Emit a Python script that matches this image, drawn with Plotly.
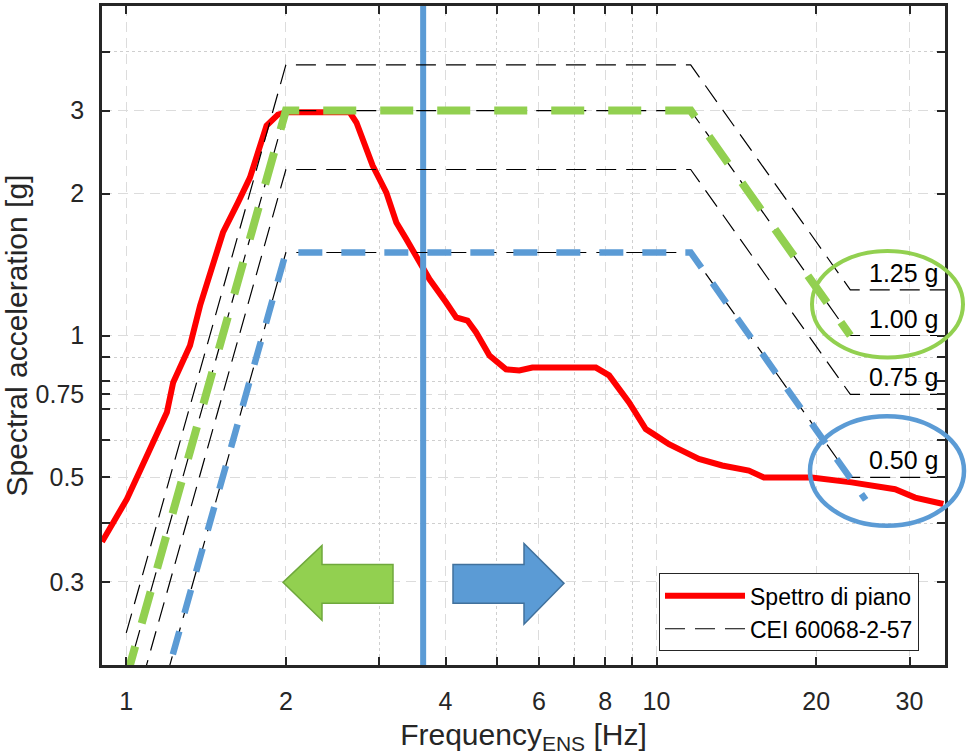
import plotly.graph_objects as go
import math

# ---------------- data ----------------
# Floor spectrum ("Spettro di piano")
spec_freq = [0.9, 1.003, 1.101, 1.193, 1.226, 1.319, 1.378, 1.449, 1.522, 1.624, 1.711,
             1.839, 1.932, 2.006, 2.639, 2.717, 2.915, 3.094, 3.231, 3.374, 3.621, 3.732,
             4.012, 4.19, 4.401, 4.569, 4.841, 5.203, 5.512, 5.833, 7.685, 8.139, 8.877,
             9.544, 9.893, 10.556, 11.17, 12.02, 13.3, 14.93, 15.94, 19.62, 23.33, 28.18,
             30.74, 34.75]
spec_acc = [0.365, 0.45, 0.565, 0.687, 0.795, 0.952, 1.158, 1.38, 1.654, 1.914, 2.163,
            2.788, 2.942, 2.975, 2.975, 2.83, 2.293, 2.01, 1.736, 1.601, 1.407, 1.316,
            1.175, 1.092, 1.076, 1.015, 0.907, 0.848, 0.843, 0.855, 0.855, 0.823, 0.721,
            0.633, 0.617, 0.588, 0.570, 0.547, 0.530, 0.517, 0.500, 0.500, 0.488, 0.472,
            0.453, 0.439]

# CEI 60068-2-57 required response spectra (corner points)
cei_freq = [1.0, 2.0, 11.6, 23.2, 35.0]
cei_125 = [0.234, 3.75, 3.75, 1.25, 1.25]
cei_100 = [0.1875, 3.0, 3.0, 1.0, 1.0]
cei_075 = [0.1406, 2.25, 2.25, 0.75, 0.75]
cei_050 = [0.0938, 1.5, 1.5, 0.5, 0.5]
cei_labels = ["1.25 g", "1.00 g", "0.75 g", "0.50 g"]
cei_zpa = [1.25, 1.00, 0.75, 0.50]

# highlighted spectra
green_freq = [1.0, 2.0, 11.6, 23.2]
green_acc = [0.1875, 3.0, 3.0, 1.0]
blue_freq = [1.0, 2.0, 11.6, 24.8]
blue_acc = [0.0938, 1.5, 1.5, 0.448]

# natural frequency line
f_ens = 3.63

x_ticks = [1, 2, 4, 6, 8, 10, 20, 30]
x_minor = [3, 5, 7, 9]
y_ticks = [0.3, 0.5, 0.75, 1, 2, 3]
y_minor = [0.4, 0.6, 0.7, 0.8, 0.9, 4]
x_range = [0.9, 35]
y_range = [0.2, 5]

# ---------------- layout helpers ----------------
W, H = 967, 755
L, R, T, B = 102, 22, 3, 90
PW, PH = W - L - R, H - T - B
def px(x):
    return (x - L) / PW
def py(y):
    return (H - B - y) / PH

FONT = "Liberation Sans, Arial, sans-serif"
GREEN = "#92D050"
BLUE = "#5B9BD5"
AXC = "#262626"

fig = go.Figure()

fig.add_trace(go.Scatter(x=spec_freq, y=spec_acc, mode="lines", name="Spettro di piano",
                         line=dict(color="#FF0000", width=6)))
fig.add_trace(go.Scatter(x=[f_ens, f_ens], y=y_range, mode="lines", showlegend=False,
                         line=dict(color=BLUE, width=6)))
for i, vals in enumerate([cei_125, cei_100, cei_075, cei_050]):
    fig.add_trace(go.Scatter(x=cei_freq, y=vals, mode="lines", name="CEI 60068-2-57",
                             showlegend=(i == 0),
                             line=dict(color="black", width=1.2, dash="20px,10px")))
fig.add_trace(go.Scatter(x=green_freq, y=green_acc, mode="lines", showlegend=False,
                         line=dict(color=GREEN, width=8, dash="33px,24px")))
fig.add_trace(go.Scatter(x=blue_freq, y=blue_acc, mode="lines", showlegend=False,
                         line=dict(color=BLUE, width=6.5, dash="24px,19px")))

# level labels
for lab, z in zip(cei_labels, cei_zpa):
    fig.add_annotation(x=px(941), xref="paper", y=math.log10(z), yref="y",
                       text=lab, showarrow=False, xanchor="right", yanchor="bottom",
                       yshift=1, font=dict(family=FONT, size=25, color="black"))

shapes = []
# ellipses
shapes.append(dict(type="circle", xref="paper", yref="paper",
                   x0=px(812), x1=px(963), y0=py(356), y1=py(249),
                   line=dict(color=GREEN, width=4)))
shapes.append(dict(type="circle", xref="paper", yref="paper",
                   x0=px(810), x1=px(964), y0=py(525), y1=py(415),
                   line=dict(color=BLUE, width=4.5)))

def poly(pts):
    return "M " + " L ".join(f"{px(a):.5f},{py(b):.5f}" for a, b in pts) + " Z"

green_arrow = [(283, 582), (322, 545), (322, 564), (393, 564), (393, 603), (322, 603), (322, 620)]
blue_arrow = [(453, 564), (524, 564), (524, 543), (564, 583), (524, 624), (524, 603), (453, 603)]
shapes.append(dict(type="path", xref="paper", yref="paper", path=poly(green_arrow),
                   fillcolor=GREEN, line=dict(color="#6FA83C", width=1.5)))
shapes.append(dict(type="path", xref="paper", yref="paper", path=poly(blue_arrow),
                   fillcolor=BLUE, line=dict(color="#41719C", width=1.5)))

axis_common = dict(
    showline=True, linecolor=AXC, linewidth=2.5, mirror="allticks",
    ticks="inside", ticklen=8, tickwidth=2, tickcolor=AXC,
    showgrid=True, gridcolor="#dcdcdc", gridwidth=1, griddash="10px,6px",
    zeroline=False, tickfont=dict(family=FONT, size=25, color=AXC),
)

fig.update_layout(
    width=W, height=H,
    margin=dict(l=L, r=R, t=T, b=B),
    paper_bgcolor="white", plot_bgcolor="white",
    shapes=shapes,
    xaxis=dict(type="log", range=[math.log10(x_range[0]), math.log10(x_range[1])],
               tickmode="array", tickvals=x_ticks, ticktext=[str(v) for v in x_ticks],
               minor=dict(tickmode="array", tickvals=x_minor, ticks="inside", ticklen=8,
                          tickwidth=2, tickcolor=AXC, showgrid=True, gridcolor="#cfcfcf",
                          griddash="dot", gridwidth=1),
               ticklabelstandoff=12,
               title=dict(text="Frequency<sub>ENS</sub> [Hz]", standoff=12,
                          font=dict(family=FONT, size=30, color=AXC)),
               **axis_common),
    yaxis=dict(type="log", range=[math.log10(y_range[0]), math.log10(y_range[1])],
               tickmode="array", tickvals=y_ticks, ticktext=["0.3", "0.5", "0.75", "1", "2", "3"],
               minor=dict(tickmode="array", tickvals=y_minor, ticks="inside", ticklen=8,
                          tickwidth=2, tickcolor=AXC, showgrid=True, gridcolor="#cfcfcf",
                          griddash="dot", gridwidth=1),
               ticklabelstandoff=10,
               title=dict(text="Spectral acceleration [g]", standoff=12,
                          font=dict(family=FONT, size=30, color=AXC)),
               **axis_common),
    legend=dict(x=px(659), y=py(573), xanchor="left", yanchor="top",
                bgcolor="white", bordercolor=AXC, borderwidth=1,
                font=dict(family=FONT, size=23, color="black"),
                itemwidth=80, tracegroupgap=0),
    showlegend=True,
)

fig.write_html("out.html", config={"displayModeBar": False},
               post_script="document.body.style.margin='0px';")
